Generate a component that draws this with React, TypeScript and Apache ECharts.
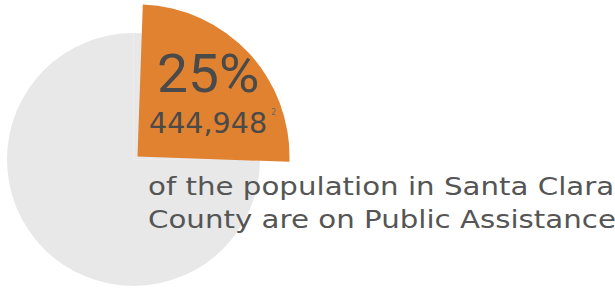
import React, { useEffect, useRef } from "react";
import * as echarts from "echarts";

const categories = ["On Public Assistance", "Not on Public Assistance"];
const shareValues = [25, 75];
const percentLabel = "25%";
const countLabel = "444,948";
const footnoteLabel = "2";
const captionLines = ["of the population in Santa Clara", "County are on Public Assistance"];

const ORANGE = "#E0822F";
const GREY = "#E8E8E8";
const TEXT = "#4A4A4A";
const FONT = "'DejaVu Sans', sans-serif";

export default function App() {
  const ref = useRef<HTMLDivElement>(null);
  useEffect(() => {
    if (!ref.current) return;
    const chart = echarts.init(ref.current, undefined, { renderer: "svg" });
    const txt = (x: number, y: number, text: string, font: string, fill: string, sx = 1) => ({
      type: "text",
      x,
      y,
      scaleX: sx,
      z: 100,
      silent: true,
      style: { x: 0, y: 0, text, font, fill, textAlign: "left", textVerticalAlign: "bottom" },
    });
    chart.setOption({
      animation: false,
      backgroundColor: "#ffffff",
      series: [
        {
          type: "pie",
          center: [133.5, 159.5],
          radius: [0, 126.5],
          silent: true,
          z: 1,
          label: { show: false },
          labelLine: { show: false },
          itemStyle: { color: GREY, borderWidth: 0 },
          data: categories.map((c, i) => ({ name: c, value: shareValues[i] })),
        },
        {
          type: "pie",
          center: [137.5, 156.5],
          radius: [0, 152],
          startAngle: 88,
          clockwise: true,
          silent: true,
          z: 2,
          label: { show: false },
          labelLine: { show: false },
          data: categories.map((c, i) => ({
            name: c,
            value: shareValues[i],
            itemStyle: { color: i === 0 ? ORANGE : "rgba(0,0,0,0)", borderWidth: 0 },
          })),
        },
      ],
      graphic: [
        txt(157, 100, percentLabel, `400 53px Roboto, sans-serif`, TEXT, 1.04),
        txt(149, 138, countLabel, `400 28px ${FONT}`, TEXT, 1.02),
        {
          type: "text",
          z: 100,
          silent: true,
          style: {
            x: 271,
            y: 112,
            text: footnoteLabel,
            font: `400 8px ${FONT}`,
            fill: "#6a6a6a",
            textAlign: "left",
            textVerticalAlign: "middle",
          },
        },
        ...captionLines.map((line, i) =>
          txt(148, 198 + i * 33, line, `400 24px ${FONT}`, "#555555", 1.22)
        ),
      ],
    });
    return () => chart.dispose();
  }, []);
  return (
    <div
      ref={ref}
      style={{ position: "fixed", left: 0, top: 0, width: 615, height: 290 }}
    />
  );
}
